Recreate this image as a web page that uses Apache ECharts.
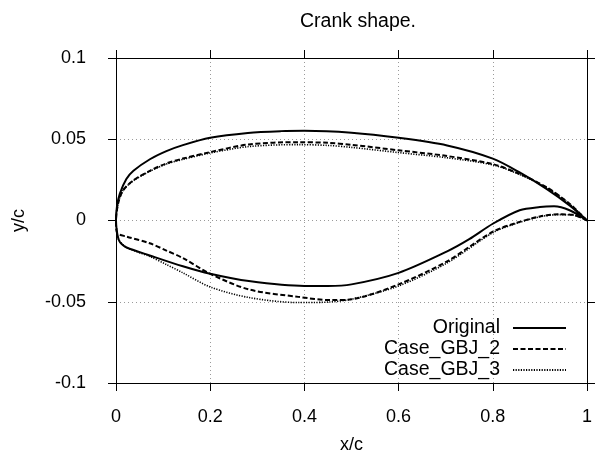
<!DOCTYPE html>
<html>
<head>
<meta charset="utf-8">
<script src="https://cdn.jsdelivr.net/npm/echarts@6/dist/echarts.min.js"></script>
<style>html,body{margin:0;padding:0;background:#fff}#c{width:595px;height:459px}</style>
</head>
<body>
<div id="c"></div>
<script>
// ---- Data (x/c, y/c), each curve goes upper surface TE->LE, then lower surface LE->TE ----
const seriesNames = ['Original', 'Case_GBJ_2', 'Case_GBJ_3'];

const originalUpper = [
  [1.0, 0], [0.963, 0.0093], [0.914, 0.0195], [0.857, 0.0296], [0.8, 0.0381],
  [0.703, 0.0462], [0.6, 0.0509], [0.5, 0.0540], [0.4, 0.0552], [0.35, 0.0550],
  [0.28, 0.0539], [0.2, 0.0509], [0.142, 0.0464], [0.107, 0.0427], [0.072, 0.0377],
  [0.037, 0.0306], [0.022, 0.0255], [0.008, 0.0164], [0.002, 0.0085], [0, 0]
];
const originalLower = [
  [0.002, -0.007], [0.006, -0.012], [0.012, -0.0145], [0.0225, -0.0166], [0.0716, -0.0215],
  [0.142, -0.0282], [0.2, -0.0328], [0.282, -0.0373], [0.4, -0.0403], [0.45, -0.0403],
  [0.5, -0.0393], [0.6, -0.0322], [0.703, -0.019], [0.75, -0.0115], [0.8, -0.002],
  [0.857, 0.0063], [0.9, 0.0083], [0.93, 0.0087], [0.963, 0.0063], [1.0, 0]
];

const gbj2Upper = [
  [1.0, 0], [0.963, 0.0103], [0.914, 0.0205], [0.857, 0.0286], [0.8, 0.0347],
  [0.7, 0.0398], [0.6, 0.0432], [0.5, 0.0466], [0.45, 0.0478], [0.387, 0.0482],
  [0.282, 0.0468], [0.2, 0.0421], [0.142, 0.0381], [0.107, 0.0351], [0.072, 0.0306],
  [0.036, 0.0245], [0.015, 0.0185], [0.005, 0.011], [0, 0]
];
const gbj2Lower = [
  [0.002, -0.0075], [0.0225, -0.0099], [0.0716, -0.014], [0.107, -0.0185], [0.142, -0.0231],
  [0.2, -0.0328], [0.282, -0.0424], [0.387, -0.047], [0.457, -0.049], [0.5, -0.0485],
  [0.6, -0.0393], [0.703, -0.0251], [0.8, -0.0069], [0.85, -0.0015], [0.9, 0.0025],
  [0.94, 0.0038], [0.97, 0.0035], [1.0, 0]
];

const gbj3Upper = [
  [1.0, 0], [0.963, 0.0102], [0.914, 0.0203], [0.857, 0.0283], [0.8, 0.0342],
  [0.7, 0.0387], [0.6, 0.0418], [0.5, 0.045], [0.45, 0.0462], [0.387, 0.0467],
  [0.282, 0.0455], [0.2, 0.0415], [0.142, 0.0376], [0.107, 0.0347], [0.072, 0.0303],
  [0.036, 0.0243], [0.015, 0.0185], [0.005, 0.011], [0, 0]
];
const gbj3Lower = [
  [0.002, -0.007], [0.006, -0.012], [0.0225, -0.0166], [0.0716, -0.0221], [0.107, -0.0271],
  [0.142, -0.0322], [0.2, -0.0409], [0.282, -0.0474], [0.387, -0.0505], [0.45, -0.0502],
  [0.5, -0.0484], [0.6, -0.0403], [0.703, -0.0261], [0.8, -0.0075], [0.85, -0.0018],
  [0.9, 0.0023], [0.94, 0.0036], [0.97, 0.0034], [1.0, 0]
];

const xTicks = [0, 0.2, 0.4, 0.6, 0.8, 1];
const yTicks = [-0.1, -0.05, 0, 0.05, 0.1];

const titleText = 'Crank shape.';
const xName = 'x/c';
const yName = 'y/c';

// ---- Chart ----
const FONT = 'Liberation Sans, Arial, sans-serif';
const FS = 18;
const FS_BIG = 19.5;
const chart = echarts.init(document.getElementById('c'), null, {renderer: 'canvas'});

const gridLine = {show: true, lineStyle: {color: '#9a9a9a', type: [1, 3], width: 1}};
const axisLine = {show: true, onZero: false, lineStyle: {color: '#000', width: 1}};
const tick = {show: true, inside: false, length: 8, lineStyle: {color: '#000', width: 1}};

const xCommon = {type: 'value', min: xTicks[0], max: xTicks[xTicks.length - 1], interval: xTicks[1] - xTicks[0]};
const yCommon = {type: 'value', min: yTicks[0], max: yTicks[yTicks.length - 1], interval: yTicks[1] - yTicks[0]};

const lineStyles = [
  {color: '#000', width: 2, type: 'solid'},
  {color: '#000', width: 2, type: [5, 2.5]},
  {color: '#000', width: 1.6, type: [1.2, 1.4]}
];
const curves = [
  originalUpper.concat(originalLower),
  gbj2Upper.concat(gbj2Lower),
  gbj3Upper.concat(gbj3Lower)
];

const legendTops = [318, 339, 360];

chart.setOption({
  animation: false,
  backgroundColor: '#fff',
  title: {
    text: titleText, left: 353, top: 7, textAlign: 'center',
    textStyle: {fontFamily: FONT, fontSize: FS_BIG, fontWeight: 'normal', color: '#000'}
  },
  grid: {left: 116, right: 4, top: 58, bottom: 72, containLabel: false},
  xAxis: [
    Object.assign({}, xCommon, {
      position: 'bottom', name: xName, nameLocation: 'middle', nameGap: 53,
      nameTextStyle: {fontFamily: FONT, fontSize: FS, color: '#000'},
      axisLine: axisLine, axisTick: tick, splitLine: gridLine,
      axisLabel: {color: '#000', fontFamily: FONT, fontSize: FS, margin: 25,
        formatter: v => String(+v.toFixed(4))}
    }),
    Object.assign({}, xCommon, {
      position: 'top', axisLine: axisLine, axisTick: tick, splitLine: {show: false},
      axisLabel: {show: false}
    })
  ],
  yAxis: [
    Object.assign({}, yCommon, {
      position: 'left', name: yName, nameLocation: 'middle', nameGap: 88, nameRotate: 90,
      nameTextStyle: {fontFamily: FONT, fontSize: FS, color: '#000'},
      axisLine: axisLine, axisTick: tick, splitLine: gridLine,
      axisLabel: {color: '#000', fontFamily: FONT, fontSize: FS, margin: 30,
        formatter: v => String(+v.toFixed(4))}
    }),
    Object.assign({}, yCommon, {
      position: 'right', axisLine: axisLine, axisTick: tick, splitLine: {show: false},
      axisLabel: {show: false}
    })
  ],
  legend: seriesNames.map((n, i) => ({
    data: [n], orient: 'vertical', align: 'right', right: 28, top: legendTops[i],
    padding: 0, itemWidth: 53, itemHeight: 14,
    itemStyle: {color: 'rgba(0,0,0,0)', borderWidth: 0, opacity: 0},
    textStyle: {fontFamily: FONT, fontSize: FS_BIG, color: '#000', padding: [0, 8, 0, 0]},
    selectedMode: false
  })),
  series: seriesNames.map((n, i) => ({
    name: n, type: 'line', xAxisIndex: 0, yAxisIndex: 0,
    data: curves[i], showSymbol: false, symbol: 'none', smooth: 0.3,
    lineStyle: lineStyles[i], itemStyle: {color: '#000'}, z: 3 - i
  }))
});
</script>
</body>
</html>
